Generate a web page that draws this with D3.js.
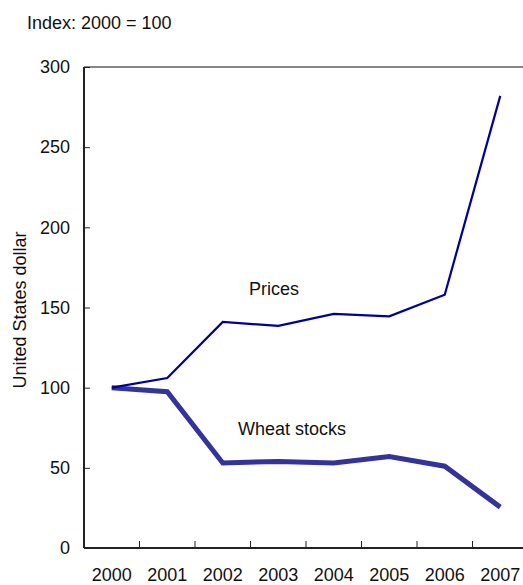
<!DOCTYPE html>
<html>
<head>
<meta charset="utf-8">
<script src="https://cdn.jsdelivr.net/npm/d3@7"></script>
<style>
  body { margin: 0; background: #fff; }
  svg text { font-family: "Liberation Sans", Arial, sans-serif; fill: #111; }
</style>
</head>
<body>
<div id="chart"></div>
<script>
// chart size and plot edges
const w = 523;
const h = 585;
const padL = 84, padR = 528, padT = 67, padB = 548;

// data
const years = ["2000", "2001", "2002", "2003", "2004", "2005", "2006", "2007"];
const prices = [100, 106, 141, 138.5, 146, 144.5, 158, 282];
const wheatStocks = [100, 97.5, 53, 54, 53, 57, 51, 25.5];
const yTicks = [0, 50, 100, 150, 200, 250, 300];

const svg = d3.select("#chart").append("svg")
  .attr("width", w)
  .attr("height", h);

const x = d3.scaleBand().domain(years).range([padL, padR]);
const y = d3.scaleLinear().domain([0, 300]).range([padB, padT]);

// top border of plot (grey)
svg.append("line")
  .attr("x1", padL).attr("x2", padR)
  .attr("y1", y(300)).attr("y2", y(300))
  .attr("stroke", "#888").attr("stroke-width", 2);

// y axis, ticks pointing inward
const yAxis = svg.append("g")
  .attr("transform", "translate(" + padL + ",0)")
  .call(d3.axisRight(y).tickValues(yTicks).tickSize(6).tickFormat(""));
yAxis.select(".domain").attr("stroke", "#222").attr("stroke-width", 2)
  .attr("d", "M0," + padB + "V" + padT);
yAxis.selectAll(".tick line").attr("stroke", "#222");

svg.append("g").selectAll("text")
  .data(yTicks)
  .join("text")
  .attr("x", 70)
  .attr("y", d => y(d))
  .attr("dy", "0.35em")
  .attr("text-anchor", "end")
  .attr("font-size", 18)
  .text(d => d);

// x axis, ticks between years pointing up
const xAxis = svg.append("g")
  .attr("transform", "translate(0," + padB + ")")
  .call(d3.axisTop(x).tickSize(0).tickFormat(""));
xAxis.select(".domain").attr("stroke", "#222").attr("stroke-width", 2)
  .attr("d", "M" + padL + ",0H" + padR);
xAxis.selectAll(".tick line").remove();

svg.append("g").selectAll("line")
  .data(years.slice(1))
  .join("line")
  .attr("x1", d => x(d)).attr("x2", d => x(d))
  .attr("y1", padB).attr("y2", padB - 7)
  .attr("stroke", "#222");

svg.append("g").selectAll("text")
  .data(years)
  .join("text")
  .attr("x", d => x(d) + x.bandwidth() / 2)
  .attr("y", 581)
  .attr("text-anchor", "middle")
  .attr("font-size", 18)
  .text(d => d);

// lines
const line = d3.line()
  .x((d, i) => x(years[i]) + x.bandwidth() / 2)
  .y(d => y(d));

svg.append("path")
  .datum(wheatStocks)
  .attr("d", line)
  .attr("fill", "none")
  .attr("stroke", "#333399")
  .attr("stroke-width", 5);

svg.append("path")
  .datum(prices)
  .attr("d", line)
  .attr("fill", "none")
  .attr("stroke", "#000099")
  .attr("stroke-width", 2.2);

// labels
svg.append("text")
  .attr("x", 27).attr("y", 29)
  .attr("font-size", 18)
  .text("Index: 2000 = 100");

svg.append("text")
  .attr("transform", "translate(26,310) rotate(-90)")
  .attr("text-anchor", "middle")
  .attr("font-size", 18)
  .text("United States dollar");

svg.append("text")
  .attr("x", 249).attr("y", 295)
  .attr("font-size", 18)
  .text("Prices");

svg.append("text")
  .attr("x", 238).attr("y", 435)
  .attr("font-size", 18)
  .text("Wheat stocks");
</script>
</body>
</html>
